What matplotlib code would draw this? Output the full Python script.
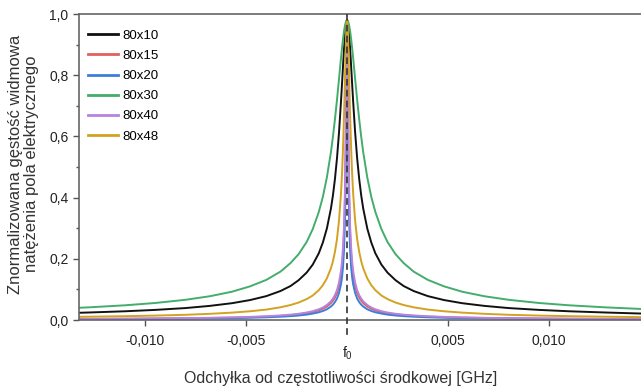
import matplotlib
matplotlib.use("Agg")
import matplotlib.pyplot as plt
import matplotlib.transforms as mtransforms
from matplotlib.ticker import FuncFormatter, MultipleLocator

# frequency offsets from f0 [GHz], one side only (curves are symmetric)
offsets = [0.0, 0.00002, 0.00005, 0.0001, 0.00015, 0.0002, 0.00025, 0.0003,
           0.0004, 0.0005, 0.0006, 0.0007, 0.0008, 0.001, 0.0012, 0.0014,
           0.0017, 0.002, 0.0024, 0.0028, 0.0033, 0.004, 0.0048, 0.0057,
           0.0068, 0.008, 0.0095, 0.011, 0.0128, 0.0146]

# normalized spectral density
s_80x10 = [0.98, 0.978, 0.968, 0.935, 0.887, 0.831, 0.772, 0.715, 0.612, 0.528,
           0.461, 0.407, 0.364, 0.299, 0.253, 0.218, 0.181, 0.155, 0.130, 0.111,
           0.0946, 0.078, 0.0652, 0.0549, 0.0461, 0.039, 0.033, 0.0285, 0.0245,
           0.021]
s_80x15 = [0.98, 0.896, 0.656, 0.402, 0.282, 0.215, 0.174, 0.145, 0.110, 0.088,
           0.0733, 0.063, 0.055, 0.044, 0.0367, 0.0315, 0.026, 0.022, 0.0184,
           0.0158, 0.0134, 0.011, 0.0092, 0.0077, 0.0065, 0.0055, 0.0046, 0.0040,
           0.0034, 0.0030]
s_80x20 = [0.98, 0.857, 0.573, 0.332, 0.229, 0.174, 0.140, 0.117, 0.088, 0.070,
           0.0587, 0.050, 0.044, 0.035, 0.0294, 0.0252, 0.021, 0.0176, 0.0147,
           0.0126, 0.0107, 0.0088, 0.0074, 0.0062, 0.0052, 0.0044, 0.0037, 0.0032,
           0.0028, 0.0024]
s_80x30 = [0.98, 0.979, 0.976, 0.964, 0.944, 0.919, 0.889, 0.857, 0.787, 0.719,
           0.656, 0.599, 0.548, 0.466, 0.402, 0.353, 0.297, 0.255, 0.215, 0.186,
           0.158, 0.131, 0.110, 0.0924, 0.0776, 0.066, 0.0556, 0.048, 0.0413,
           0.036]
s_80x40 = [0.98, 0.910, 0.693, 0.438, 0.310, 0.238, 0.192, 0.161, 0.122, 0.0975,
           0.0814, 0.070, 0.0611, 0.049, 0.0408, 0.035, 0.0288, 0.0245, 0.0204,
           0.0175, 0.0149, 0.0122, 0.0102, 0.0086, 0.0072, 0.0061, 0.0052, 0.0045,
           0.0038, 0.0034]
s_80x48 = [0.98, 0.970, 0.923, 0.797, 0.669, 0.562, 0.479, 0.414, 0.324, 0.264,
           0.223, 0.192, 0.169, 0.136, 0.1136, 0.0975, 0.080, 0.0684, 0.057,
           0.0489, 0.0415, 0.034, 0.0286, 0.0241, 0.0202, 0.017, 0.0144, 0.0125,
           0.0107, 0.0094]

labels = ["80x10", "80x15", "80x20", "80x30", "80x40", "80x48"]
series = [s_80x10, s_80x15, s_80x20, s_80x30, s_80x40, s_80x48]
colors = ["#111111", "#e0605c", "#3c7fd8", "#43ad6c", "#b783dc", "#d3a221"]

x_ticks = [-0.010, -0.005, 0.005, 0.010]
y_ticks = [0.0, 0.2, 0.4, 0.6, 0.8, 1.0]


def mirror(xs, ys):
    """Build the full symmetric curve from one side."""
    full_x = [-v for v in reversed(xs[1:])] + list(xs)
    full_y = list(reversed(ys[1:])) + list(ys)
    return full_x, full_y


plt.rcParams['font.family'] = ['Liberation Sans', 'DejaVu Sans']

fig = plt.figure(figsize=(6.41, 3.92), dpi=100)
ax = fig.add_axes([79 / 641, 72 / 392, 562 / 641, 306 / 392])

for ys, lab, col in zip(series, labels, colors):
    fx, fy = mirror(offsets, ys)
    ax.plot(fx, fy, color=col, lw=1.4, label=lab, solid_joinstyle="round")

# dashed marker at the center frequency, running down past the axis
trans = mtransforms.blended_transform_factory(ax.transData, ax.transAxes)
ax.plot([0, 0], [1.0, -0.056], transform=trans, color="#333333", lw=1.2,
        ls=(0, (4, 2.5)), clip_on=False, zorder=5)
ax.text(0, -0.108, r"$\mathregular{f_0}$", transform=trans, ha="center",
        va="center", fontsize=10, color="#222222")

ax.set_xlim(-0.01327, 0.01455)
ax.set_ylim(0, 1.0)
ax.set_xticks(x_ticks)
ax.set_yticks(y_ticks)
ax.yaxis.set_minor_locator(MultipleLocator(0.1))
ax.xaxis.set_major_formatter(FuncFormatter(lambda v, p: f"{v:.3f}".replace(".", ",")))
ax.yaxis.set_major_formatter(FuncFormatter(lambda v, p: f"{v:.1f}".replace(".", ",")))

ax.tick_params(axis="both", which="major", direction="out", length=4, width=1,
               labelsize=10, colors="#555555", labelcolor="#222222")
ax.tick_params(axis="y", which="minor", direction="out", length=2.5, width=1,
               colors="#555555")
ax.tick_params(axis="x", pad=6)

ax.spines["right"].set_visible(False)
for side in ["top", "left", "bottom"]:
    ax.spines[side].set_color("#666666")
    ax.spines[side].set_linewidth(1.2)

fig.text(23.5 / 641, 1 - 164 / 392,
         "Znormalizowana gęstość widmowa\nnatężenia pola elektrycznego",
         rotation=90, ha="center", va="center", multialignment="center",
         fontsize=12, color="#333333", linespacing=1.05)
fig.text(341 / 641, 1 - 378 / 392, "Odchyłka od częstotliwości środkowej [GHz]",
         ha="center", va="center", fontsize=11.5, color="#333333")

leg = ax.legend(loc="upper left", bbox_to_anchor=(0.016, 0.949), frameon=False,
                fontsize=9.5, handlelength=2.3, handletextpad=0.3,
                labelspacing=0.6, borderpad=0, borderaxespad=0)
for line in leg.get_lines():
    line.set_linewidth(2.0)

fig.savefig("out.png", dpi=100)
